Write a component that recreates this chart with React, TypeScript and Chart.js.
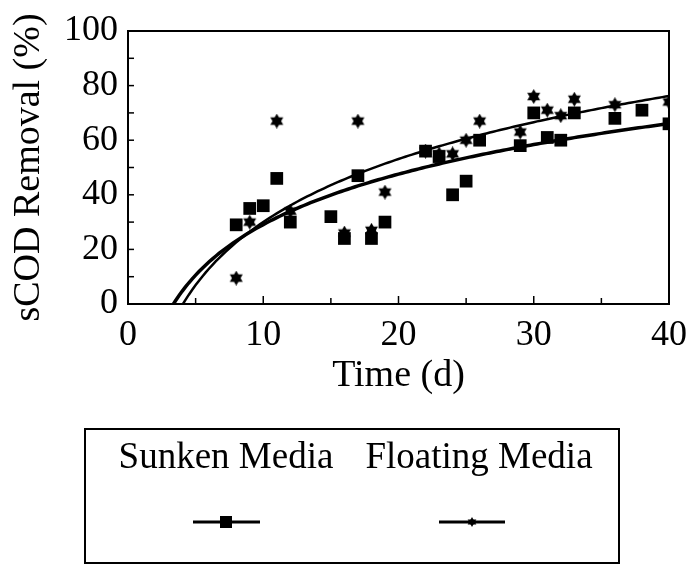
import React, { useEffect, useRef } from 'react';
import { Chart, registerables } from 'chart.js';

Chart.register(...registerables);

// ---- data ----
const sunkenDays = [8, 9, 10, 11, 12, 15, 16, 17, 18, 19, 22, 23, 24, 25, 26, 29, 30, 31, 32, 33, 36, 38, 40];
const sunkenRemoval = [29, 35, 36, 46, 30, 32, 24, 47, 24, 30, 56, 54, 40, 45, 60, 58, 70, 61, 60, 70, 68, 71, 66];
const floatingDays = [8, 9, 11, 12, 16, 17, 18, 19, 22, 23, 24, 25, 26, 29, 30, 31, 32, 33, 36, 40];
const floatingRemoval = [9.5, 30, 67, 34, 26, 67, 27, 41, 56, 55, 55, 60, 67, 63, 76, 71, 69, 75, 73, 74];
const xTickLabels = [0, 10, 20, 30, 40];
const yTickLabels = [0, 20, 40, 60, 80, 100];
const seriesNames = ['Sunken Media', 'Floating Media'];

const FONT = "'Liberation Serif', 'Times New Roman', serif";

function logFit(xs: number[], ys: number[]) {
  const L = xs.map((v) => Math.log(v));
  const n = L.length;
  const mL = L.reduce((s, v) => s + v, 0) / n;
  const mY = ys.reduce((s, v) => s + v, 0) / n;
  let sxy = 0;
  let sxx = 0;
  for (let i = 0; i < n; i++) {
    sxy += (L[i] - mL) * (ys[i] - mY);
    sxx += (L[i] - mL) * (L[i] - mL);
  }
  const a = sxy / sxx;
  const b = mY - a * mL;
  return { a, b };
}

function trendPoints(xs: number[], ys: number[], xMax: number) {
  const { a, b } = logFit(xs, ys);
  const x0 = Math.exp(-b / a);
  const pts: { x: number; y: number }[] = [{ x: x0, y: 0 }];
  let x = Math.ceil(x0 * 4) / 4;
  if (x <= x0) x += 0.25;
  for (; x <= xMax + 1e-9; x += 0.25) pts.push({ x, y: a * Math.log(x) + b });
  return pts;
}

function makeStar(size: number) {
  const c = document.createElement('canvas');
  c.width = size;
  c.height = size;
  const ctx = c.getContext('2d')!;
  drawStar(ctx, size / 2, size / 2, size / 2);
  return c;
}

function drawStar(ctx: CanvasRenderingContext2D, cx: number, cy: number, r: number) {
  ctx.save();
  ctx.fillStyle = '#000';
  for (const start of [-90, 90]) {
    ctx.beginPath();
    for (let k = 0; k < 3; k++) {
      const ang = ((start + k * 120) * Math.PI) / 180;
      const px = cx + r * Math.cos(ang);
      const py = cy + r * Math.sin(ang);
      if (k === 0) ctx.moveTo(px, py);
      else ctx.lineTo(px, py);
    }
    ctx.closePath();
    ctx.fill();
  }
  ctx.restore();
}

const framePlugin = {
  id: 'frameAndTicks',
  afterDatasetsDraw(chart: any) {
    const { ctx, chartArea, scales } = chart;
    const { left, right, top, bottom } = chartArea;
    ctx.save();
    ctx.strokeStyle = '#000';
    ctx.lineWidth = 2;
    ctx.strokeRect(left, top, right - left, bottom - top);
    ctx.lineWidth = 1.5;
    const xs = scales.x;
    for (const t of xs.ticks) {
      const px = xs.getPixelForValue(t.value);
      const len = xTickLabels.includes(t.value) ? 8 : 6;
      if (px <= left + 1 || px >= right - 1) continue;
      ctx.beginPath();
      ctx.moveTo(px, bottom);
      ctx.lineTo(px, bottom - len);
      ctx.stroke();
    }
    const ys = scales.y;
    for (const t of ys.ticks) {
      const py = ys.getPixelForValue(t.value);
      if (py <= top + 1 || py >= bottom - 1) continue;
      ctx.beginPath();
      ctx.moveTo(left, py);
      ctx.lineTo(left + 6, py);
      ctx.stroke();
    }
    ctx.restore();
  },
  afterDraw(chart: any) {
    const { ctx } = chart;
    ctx.save();
    // legend box
    ctx.strokeStyle = '#000';
    ctx.lineWidth = 2;
    ctx.strokeRect(85, 429, 534, 134);
    ctx.fillStyle = '#000';
    ctx.font = `37px ${FONT}`;
    ctx.textAlign = 'center';
    ctx.textBaseline = 'alphabetic';
    ctx.fillText(seriesNames[0], 226, 468);
    ctx.fillText(seriesNames[1], 479, 468);
    // samples
    ctx.lineWidth = 3;
    ctx.beginPath();
    ctx.moveTo(193, 522);
    ctx.lineTo(260, 522);
    ctx.moveTo(439, 522);
    ctx.lineTo(505, 522);
    ctx.stroke();
    ctx.fillRect(220, 516, 12, 12);
    drawStar(ctx, 472, 522, 5);
    ctx.restore();
  },
};

export default function App() {
  const ref = useRef<HTMLCanvasElement | null>(null);

  useEffect(() => {
    if (!ref.current) return;
    const star = makeStar(15);
    const sunkenPts = sunkenDays.map((x, i) => ({ x, y: sunkenRemoval[i] }));
    const floatingPts = floatingDays.map((x, i) => ({ x, y: floatingRemoval[i] }));
    const chart = new Chart(ref.current, {
      type: 'scatter',
      data: {
        datasets: [
          {
            label: seriesNames[0],
            data: sunkenPts,
            pointStyle: 'rect',
            pointRadius: 9,
            backgroundColor: '#000',
            borderColor: '#000',
            borderWidth: 0,
            order: 0,
          },
          {
            label: seriesNames[1],
            data: floatingPts,
            pointStyle: star as any,
            pointRadius: 7,
            backgroundColor: '#000',
            borderColor: '#000',
            order: 1,
          },
          {
            label: seriesNames[0] + ' trend',
            type: 'line',
            data: trendPoints(sunkenDays, sunkenRemoval, 40),
            borderColor: '#000',
            borderWidth: 3.5,
            pointRadius: 0,
            tension: 0,
            fill: false,
            order: 2,
          } as any,
          {
            label: seriesNames[1] + ' trend',
            type: 'line',
            data: trendPoints(floatingDays, floatingRemoval, 40),
            borderColor: '#000',
            borderWidth: 2.5,
            pointRadius: 0,
            tension: 0,
            fill: false,
            order: 3,
          } as any,
        ],
      },
      options: {
        responsive: false,
        animation: false,
        layout: { padding: { left: 0, right: 22, top: 31, bottom: 166 } },
        plugins: { legend: { display: false }, tooltip: { enabled: false } },
        scales: {
          x: {
            type: 'linear',
            min: 0,
            max: 40,
            grid: { display: false, drawTicks: false },
            border: { display: false },
            ticks: {
              stepSize: 5,
              color: '#000',
              font: { family: FONT, size: 36 },
              padding: 10,
              maxRotation: 0,
              autoSkip: false,
              callback: (v: any) => (xTickLabels.includes(Number(v)) ? String(v) : ''),
            },
            title: {
              display: true,
              text: 'Time (d)',
              color: '#000',
              font: { family: FONT, size: 38 },
              padding: { top: 0, bottom: 0 },
            },
            afterFit: (s: any) => {
              s.height = 95;
              s.paddingLeft = 0;
              s.paddingRight = 0;
            },
          },
          y: {
            type: 'linear',
            min: 0,
            max: 100,
            grid: { display: false, drawTicks: false },
            border: { display: false },
            ticks: {
              stepSize: 10,
              color: '#000',
              font: { family: FONT, size: 36 },
              padding: 10,
              autoSkip: false,
              callback: (v: any) => (yTickLabels.includes(Number(v)) ? String(v) : ''),
            },
            title: {
              display: true,
              text: 'sCOD Removal (%)',
              color: '#000',
              font: { family: FONT, size: 38 },
              padding: { top: 6, bottom: 0 },
            },
            afterFit: (s: any) => {
              s.width = 128;
              s.paddingTop = 0;
              s.paddingBottom = 0;
            },
          },
        },
      },
      plugins: [framePlugin],
    });
    return () => chart.destroy();
  }, []);

  return (
    <div style={{ position: 'fixed', left: 0, top: 0, width: 691, height: 565, background: '#fff' }}>
      <canvas ref={ref} width={691} height={565} />
    </div>
  );
}
